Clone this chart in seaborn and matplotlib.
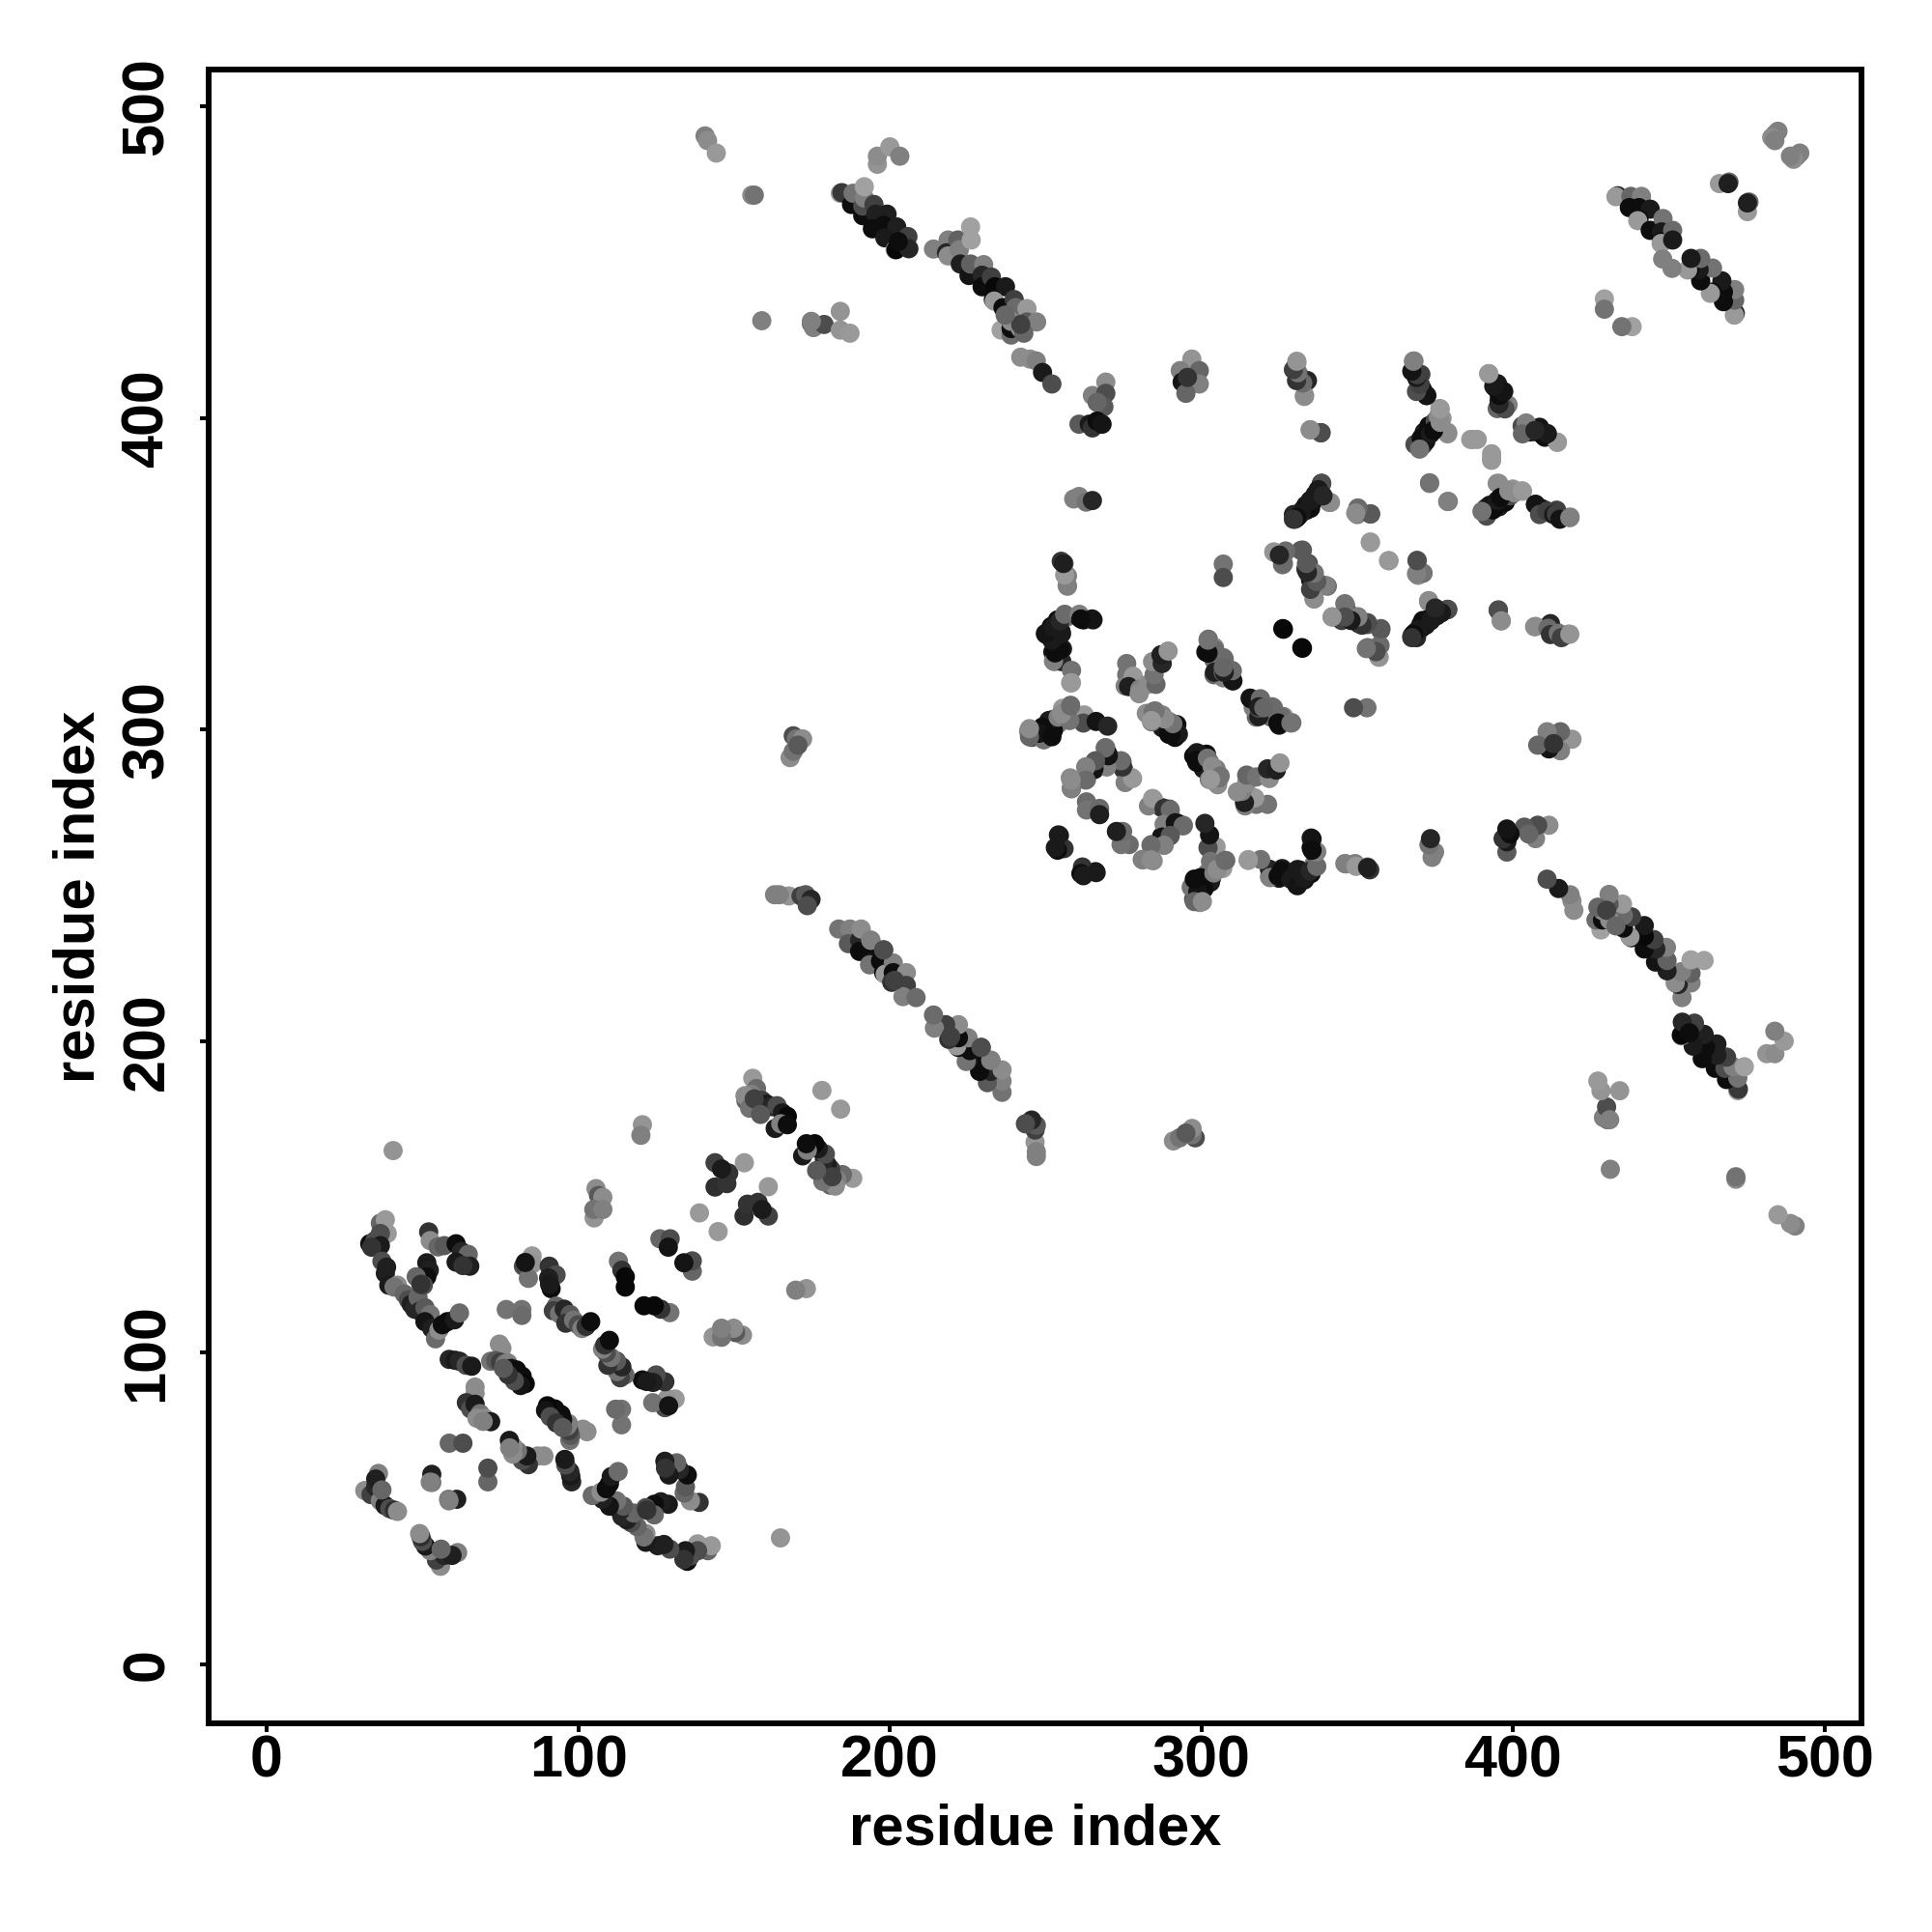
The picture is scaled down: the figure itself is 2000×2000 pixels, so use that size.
import numpy as np
import pandas as pd
import matplotlib
matplotlib.use("Agg")
import matplotlib.pyplot as plt
import seaborn as sns

# residue contacts, one triangle (i < j); the map is symmetric
a_i = [36.5,38.1,38.7,36.5,33.1,34.8,36.5,33.7,37.0,38.1,38.5,39.2,42.0,40.9,44.2,45.5,46.4,47.5,48.6,49.2,50.8,52.5,50.8,53.0,54.2,55.3,56.4,58.0,60.3,61.9,51.4,52.2,51.4,50.3,48.0,49.5]
a_j = [141.6,142.7,138.3,138.3,135.0,136.0,134.4,133.9,129.4,125.5,127.5,121.7,121.7,121.1,118.9,117.0,115.6,114.0,117.8,113.4,114.5,112.3,110.0,107.8,104.5,107.3,109.0,110.0,110.6,112.8,128.9,126.5,124.4,121.7,124.4,122.0]
a_g = [.40,.60,.60,.30,.05,.30,.10,.20,.30,.12,.12,.10,.55,.45,.40,.30,.12,.15,.40,.15,.35,.45,.08,.12,.42,.55,.05,.05,.10,.42,.10,.12,.05,.30,.40,.20]

b_i = [52.0,52.5,55.0,57.0,60.8,62.5,64.7,65.2,60.8,63.0,53.0,53.0,35.9,31.5,33.5,35.0,36.5,38.0,39.5,41.0,42.0,35.0,37.0]
b_j = [138.8,136.0,134.0,134.4,135.0,132.5,131.6,127.8,129.1,128.0,61.0,58.4,61.3,55.8,54.5,57.0,52.5,51.0,50.0,49.5,49.1,59.5,56.0]
b_g = [.20,.55,.40,.35,.05,.15,.40,.12,.10,.20,.12,.45,.50,.55,.25,.15,.50,.10,.30,.18,.55,.12,.40]

c_i = [58.6,60.5,61.9,64.0,65.8,66.9,66.9,64.1,65.5,66.9,68.5,70.0,71.9,67.5,69.5,58.6,63.0,58.5]
c_j = [97.9,97.6,97.3,96.0,95.7,89.0,87.0,84.0,82.0,83.5,80.5,79.0,77.9,79.0,78.0,71.0,71.0,52.5]
c_g = [.15,.10,.15,.30,.10,.55,.55,.20,.30,.10,.45,.55,.10,.55,.50,.40,.30,.50]

d_i = [74.7,75.5,71.9,73.5,75.0,76.5,77.4,78.5,79.0,80.2,81.0,82.0,83.0,81.5,79.5,77.5,76.0]
d_j = [102.8,101.5,97.3,97.5,97.0,96.5,96.8,95.0,93.0,94.5,91.5,92.5,90.1,89.5,91.0,93.0,95.0]
d_g = [.55,.55,.45,.35,.25,.45,.50,.08,.10,.05,.05,.05,.03,.08,.30,.20,.35]

e_i = [76.9,81.9,81.9,85.2,85.2,82.4,84.0,83.0,90.7,92.9,90.5,91.3,90.8,92.9,92.0,94.0,95.5,97.4,96.0,98.5,100.0,101.2,102.5,104.0]
e_j = [113.9,113.9,112.0,131.1,128.5,127.8,123.9,129.0,127.8,125.0,124.0,120.6,122.0,115.0,113.5,112.5,114.0,112.3,109.5,110.5,109.0,107.8,108.5,110.0]
e_g = [.45,.45,.42,.60,.58,.30,.45,.08,.20,.30,.12,.05,.10,.40,.25,.45,.15,.35,.20,.45,.30,.50,.20,.05]

f_i = [112.9,114.0,115.1,115.1,105.7,106.5,107.9,105.1,105.0,107.9,120.6,120.1,126.2,129.5,128.9,143.9,148.3,143.9,147.7,146.0,153.3,138.9,178.2,40.6]
f_j = [129.4,126.5,124.4,121.1,152.7,150.5,149.9,143.3,146.0,146.0,173.2,169.8,136.6,136.6,133.9,161.0,157.7,153.2,154.3,159.0,161.0,144.9,184.2,164.9]
f_g = [.45,.20,.03,.03,.55,.35,.55,.58,.45,.50,.58,.50,.40,.30,.08,.25,.20,.18,.20,.10,.60,.60,.60,.58]

g_i = [156.0,157.2,153.8,155.5,157.5,159.0,160.5,162.0,163.8,165.5,167.1,163.2,165.0,167.1,153.5,155.0,156.5,158.5]
g_j = [188.1,184.8,180.9,183.0,179.5,181.0,179.8,179.0,179.3,177.0,175.9,172.0,173.5,173.2,182.5,178.5,181.5,176.5]
g_g = [.60,.42,.40,.50,.50,.25,.10,.15,.30,.10,.03,.10,.50,.05,.55,.45,.25,.35]

h_i = [163.0,167.6,171.5,173.0,174.7,173.5,169.0,170.0,172.0,168.0,169.0,170.5,164.5,242.0,245.0,247.0,249.0,252.0]
h_j = [247.0,246.6,246.6,247.0,245.5,243.5,298.0,297.0,297.0,291.0,293.0,295.0,247.0,419.5,418.9,418.3,414.6,410.9]
h_g = [.50,.58,.25,.35,.15,.30,.30,.45,.55,.55,.45,.35,.50,.55,.55,.50,.10,.30]

j_i = [183.6,187.2,186.7,190.3,190.3,190.8,194.4,193.9,193.9,193.5,197.0,198.0,198.0,198.5,201.1,201.1,200.6,205.3,205.3,204.2,208.4,193.9,198.0,201.5]
j_j = [236.0,236.0,231.3,232.4,228.8,236.0,229.3,225.1,232.4,224.5,225.7,229.3,222.0,221.5,225.1,222.0,218.9,222.0,217.9,214.3,214.0,232.4,229.3,219.5]
j_g = [.45,.50,.35,.15,.05,.55,.05,.10,.50,.45,.05,.30,.05,.60,.50,.05,.20,.55,.25,.50,.42,.50,.30,.25]

k_i = [184.1,184.6,187.7,188.2,191.3,191.3,191.8,191.8,194.9,195.5,199.1,194.4,198.0,202.2,198.4,201.7,202.0,205.8,206.1,202.7]
k_j = [472.1,472.3,468.5,472.1,464.9,468.0,470.6,474.2,468.5,465.4,465.4,460.7,461.8,461.3,457.8,454.0,454.0,458.2,454.3,456.6]
k_g = [.62,.22,.05,.45,.05,.30,.50,.63,.25,.12,.12,.05,.05,.12,.10,.55,.03,.25,.15,.05]

l_i = [214.0,218.7,218.2,218.7,221.8,222.3,225.9,226.1,222.6,225.4,225.9,230.1,229.6,229.6,232.6,233.7,237.1,233.2,233.5,236.3,239.9,240.4,244.0,244.0,247.1,235.7,238.9,238.9,238.9,241.9,243.0,242.0,237.0]
l_j = [454.2,457.1,453.0,452.0,457.1,454.0,461.3,457.1,449.4,445.7,449.4,449.2,445.8,442.1,445.2,442.1,442.1,438.0,437.5,435.4,438.0,435.4,435.1,430.8,430.8,428.2,426.6,428.7,431.0,428.7,427.2,430.0,433.0]
l_g = [.50,.50,.15,.55,.38,.50,.63,.63,.12,.08,.38,.50,.15,.05,.25,.03,.10,.05,.60,.05,.25,.42,.60,.35,.50,.63,.42,.05,.55,.55,.40,.25,.40]

m_i = [140.7,141.5,144.3,155.7,156.5,158.9,174.8,175.5,178.9,184.1,184.1,187.2,196.0,196.0,200.0,203.2,174.8]
m_j = [490.5,489.0,485.0,471.5,471.5,431.2,430.3,429.0,430.0,434.2,428.2,427.2,481.4,484.0,487.0,484.0,431.0]
m_g = [.50,.55,.60,.55,.45,.50,.40,.50,.30,.58,.58,.60,.58,.55,.60,.50,.50]

n_i = [269.3,265.0,269.3,268.7,266.5,260.7,264.0,265.0,266.5,268.1,296.9,293.2,299.3,299.3,293.8,295.0,295.5,330.6,331.2,330.0,333.0,333.0,334.9,338.3,334.0]
n_j = [411.5,407.2,407.9,403.6,405.0,398.0,398.0,396.8,399.0,398.0,418.9,415.2,415.2,410.9,411.5,407.9,413.0,417.7,414.0,416.0,410.9,406.9,396.2,395.2,412.0]
n_g = [.55,.50,.30,.35,.40,.35,.10,.20,.05,.08,.58,.50,.40,.50,.08,.40,.20,.55,.42,.50,.45,.55,.55,.30,.15]

o_i = [368.2,370.4,370.4,372.2,369.5,371.0,376.5,377.2,379.0,374.1,371.5,373.0,375.0,371.0,369.8,368.5,372.0,387.0,388.5,393.1,392.2,394.3,395.0,395.5,398.4,394.9,396.0,402.9,404.5,407.2,408.5,410.2,414.2]
o_j = [418.3,414.0,410.3,407.2,412.0,409.0,403.0,399.9,395.4,396.2,395.5,397.5,399.0,391.9,390.7,391.5,393.5,393.1,393.1,386.4,414.2,409.7,411.0,405.4,404.2,403.0,407.0,397.4,395.5,395.6,397.0,393.8,392.2]
o_g = [.50,.25,.25,.08,.15,.10,.58,.58,.55,.20,.10,.05,.30,.15,.08,.30,.10,.60,.60,.60,.60,.05,.10,.10,.50,.40,.15,.30,.15,.05,.08,.10,.60]

p_i = [373.2,379.2,394.9,391.3,392.5,393.5,394.9,396.0,398.6,400.5,402.9,390.0,407.2,408.5,410.9,413.0,413.9,415.0,418.2,260.7,259.0,263.0,265.0]
p_j = [379.0,373.2,379.0,371.1,372.0,370.5,373.5,374.5,376.6,376.0,376.6,370.0,372.3,369.0,370.1,369.0,369.2,367.5,368.0,374.8,374.0,373.0,373.5]
p_g = [.50,.45,.55,.25,.08,.05,.10,.05,.55,.55,.60,.45,.08,.30,.25,.10,.25,.08,.50,.50,.50,.45,.15]

q_i = [338.5,337.5,341.0,336.5,334.9,333.5,332.5,331.2,330.0,329.5,335.0,350.2,350.0,354.2,354.2,360.2,369.2,371.0,369.5,255.8,255.0,257.0,257.0,307.0,307.0]
q_j = [379.0,377.0,372.9,375.5,373.5,372.0,370.5,368.6,367.5,369.0,371.0,371.1,369.0,369.2,360.0,354.2,354.3,350.2,349.5,353.3,354.0,349.3,346.0,353.1,348.8]
q_g = [.05,.40,.50,.10,.05,.10,.08,.15,.25,.15,.05,.45,.50,.30,.60,.60,.35,.42,.55,.50,.20,.50,.50,.45,.30]

r_i = [323.2,326.9,325.0,326.0,332.4,334.3,333.5,336.1,335.0,340.4,336.1,336.1,346.3,342.0,345.0,347.5,350.2,350.5,353.3,357.5,353.3,357.3,356.9,356.0]
r_j = [357.0,357.0,356.0,352.9,357.6,353.3,351.5,350.2,348.0,346.0,346.0,341.9,339.8,336.2,335.0,337.0,336.2,334.0,333.7,331.9,326.3,327.0,323.3,325.0]
r_g = [.58,.42,.30,.45,.35,.30,.20,.50,.10,.45,.30,.58,.50,.55,.25,.35,.45,.15,.35,.35,.42,.42,.58,.15]

s_i = [326.3,332.4,372.9,379.0,377.0,375.3,373.0,371.5,370.4,369.5,368.0,367.5,395.3,396.2,407.2,411.2,412.0,414.5,415.5,418.2,373.5,375.0]
s_j = [332.2,326.1,341.4,338.6,337.5,337.4,335.5,334.5,333.7,332.0,330.6,329.5,338.4,334.9,333.1,332.5,330.5,330.9,329.5,330.6,335.0,339.0]
s_g = [.03,.03,.55,.30,.10,.10,.05,.08,.05,.10,.05,.20,.30,.55,.55,.42,.20,.45,.25,.58,.10,.15]

t_i = [253.8,251.8,254.9,250.2,254.0,255.4,252.3,252.8,255.2,258.3,258.3,257.0,260.6,262.1,265.2]
t_j = [335.2,333.1,331.6,330.5,328.5,325.9,324.9,321.8,321.8,319.0,315.0,336.2,336.2,335.2,335.2]
t_g = [.05,.05,.10,.08,.05,.10,.08,.55,.15,.45,.63,.45,.12,.05,.10]

u_i = [276.0,276.0,275.5,278.1,276.6,280.2,280.0,282.8,285.4,284.8,284.3,287.4,287.0,289.3,302.2,304.2,301.4,304.0,307.0,304.0,307.0,309.6,310.1]
u_j = [321.2,317.6,314.0,317.1,313.8,313.0,311.5,314.5,314.5,317.6,321.8,321.2,324.0,325.2,329.0,326.4,324.9,322.3,323.1,317.6,316.6,319.0,315.6]
u_g = [.45,.45,.50,.60,.12,.50,.55,.55,.40,.45,.55,.15,.12,.58,.42,.55,.08,.40,.45,.40,.50,.42,.12]

v_i = [282.3,284.5,287.4,285.4,289.5,287.4,292.1,289.5,292.6,291.5,284.0,292.3,290.2,290.8,288.2,285.1,284.0]
v_j = [305.2,305.7,304.7,303.2,302.6,300.6,301.6,298.5,298.5,297.5,302.5,298.8,298.3,301.9,303.4,306.0,302.9]
v_g = [.55,.45,.50,.15,.42,.10,.05,.05,.15,.05,.45,.10,.05,.45,.55,.45,.60]

v2_i = [302.1,304.2,307.3,304.2,307.0,309.9,309.9,307.3,304.2,302.1,302.1,307.0]
v2_j = [324.6,325.6,322.7,318.4,318.4,315.8,318.9,318.4,325.6,324.6,328.7,320.0]
v2_g = [.05,.55,.42,.12,.42,.08,.42,.12,.42,.05,.45,.40]

w_i = [258.0,255.4,262.4,262.1,266.2,269.9,252.3,250.7,249.2,252.3,244.5,245.6,249.7,255.1,254.1,252.5,251.0,250.0,249.4,248.9,247.9,244.8,244.8,252.0,254.0]
w_j = [307.8,306.8,304.7,302.1,302.6,301.1,303.2,301.1,298.5,299.5,299.5,297.5,297.0,305.0,301.9,299.8,302.9,297.7,296.7,300.8,298.8,297.7,300.3,297.7,304.0]
w_g = [.45,.60,.60,.30,.08,.15,.05,.05,.05,.10,.55,.30,.40,.55,.50,.05,.10,.10,.45,.05,.08,.40,.55,.05,.50]

y_i = [269.3,269.9,269.9,271.9,274.5,275.0,277.6,275.5,265.7,265.7,263.1,263.1,258.3,258.3,263.1,263.1,267.3,267.3,254.4,255.9,253.8,254.1,253.1,257.9,258.2,262.9,265.5,270.1,270.0]
y_j = [294.2,292.3,289.2,290.2,289.7,287.2,284.6,283.0,289.7,287.2,287.6,284.0,284.0,281.0,276.8,274.2,274.7,272.7,266.0,261.8,261.3,266.2,262.1,284.5,283.8,288.0,287.4,291.6,290.0]
y_g = [.50,.05,.55,.40,.35,.20,.60,.50,.40,.10,.50,.42,.50,.45,.42,.45,.42,.12,.08,.20,.05,.10,.10,.55,.50,.50,.08,.08,.42]

z_i = [277.9,274.7,274.2,269.6,270.1,269.1,265.5,266.0,262.9,262.9,258.2,258.2,257.7,255.1,258.0,258.0,252.5,254.6,253.0,252.0,249.9,252.5,255.1,254.6,256.1,260.8,264.9,261.3,256.9,256.1,255.9,255.7]
z_j = [284.3,288.0,290.0,288.0,291.6,294.1,287.4,290.0,288.0,283.8,281.2,283.8,302.9,305.0,307.6,315.0,322.0,325.6,324.6,328.7,330.8,332.9,330.8,334.9,337.0,337.0,335.5,335.5,346.3,349.6,353.3,353.3]
z_g = [.60,.20,.42,.50,.08,.42,.08,.35,.50,.42,.50,.55,.45,.55,.42,.60,.50,.05,.05,.10,.08,.10,.10,.15,.42,.50,.08,.05,.50,.60,.50,.12]

aa_i = [433.6,433.0,437.8,441.2,437.3,440.4,444.0,440.4,440.0,444.0,448.1,447.6,447.6,447.5,451.2,451.2,466.2,469.3,469.0,429.3,429.3,484.0,485.0,483.0,484.0,448.0]
aa_j = [471.3,471.0,471.1,471.1,467.5,467.5,467.0,463.8,463.3,460.2,464.0,459.7,456.6,456.0,460.2,457.1,475.2,475.7,475.2,438.2,434.9,491.0,492.0,490.0,489.0,451.0]
aa_g = [.15,.60,.40,.50,.05,.05,.10,.05,.60,.05,.45,.10,.05,.60,.42,.10,.60,.42,.12,.63,.45,.45,.50,.55,.50,.50]

STRANDS = [(a_i,a_j,a_g),(b_i,b_j,b_g),(c_i,c_j,c_g),(d_i,d_j,d_g),(e_i,e_j,e_g),(f_i,f_j,f_g),
           (g_i,g_j,g_g),(h_i,h_j,h_g),(j_i,j_j,j_g),(k_i,k_j,k_g),(l_i,l_j,l_g),(m_i,m_j,m_g),
           (n_i,n_j,n_g),(o_i,o_j,o_g),(p_i,p_j,p_g),(q_i,q_j,q_g),(r_i,r_j,r_g),(s_i,s_j,s_g),
           (t_i,t_j,t_g),(u_i,u_j,u_g),(v_i,v_j,v_g),(v2_i,v2_j,v2_g),(w_i,w_j,w_g),(y_i,y_j,y_g),
           (z_i,z_j,z_g),(aa_i,aa_j,aa_g)]
tick_values = [0, 100, 200, 300, 400, 500]
axis_label = "residue index"

rows = []
for si, sj, sg in STRANDS:
    assert len(si) == len(sj) == len(sg), (si[0], len(si), len(sj), len(sg))
    rows.append(pd.DataFrame({"x": si, "y": sj, "gray": sg}))
    rows.append(pd.DataFrame({"x": sj, "y": si, "gray": sg}))
df = pd.concat(rows, ignore_index=True)

sns.set_theme(style="white")
plt.rcParams["font.family"] = ["Liberation Sans", "DejaVu Sans"]
plt.rcParams["font.weight"] = "bold"

fig = plt.figure(figsize=(20, 20), dpi=100, facecolor="white")
ax = fig.add_axes([216/2000, (2000-1784)/2000, (1927-216)/2000, (1784-72)/2000])
palette = {g: str(g) for g in df["gray"].unique()}
sns.scatterplot(data=df, x="x", y="y", hue="gray", palette=palette, s=205,
                linewidth=0, alpha=1, legend=False, ax=ax, clip_on=True)
ax.set_xlim(-18.6, 511.8)
ax.set_ylim(-18.9, 511.8)
ax.set_xticks(tick_values)
ax.set_yticks(tick_values)
ax.tick_params(axis="x", length=6.5, width=2.9, color="black", pad=1.5, labelsize=44, labelcolor="black", bottom=True)
ax.tick_params(axis="y", length=6.5, width=2.9, color="black", pad=18, labelsize=44, labelcolor="black", left=True)
for lab in ax.get_yticklabels():
    lab.set_rotation(90)
    lab.set_va("center")
for lab in ax.get_xticklabels() + ax.get_yticklabels():
    lab.set_fontweight("bold")
for sp in ax.spines.values():
    sp.set_visible(True)
    sp.set_linewidth(4.3)
    sp.set_color("black")
ax.grid(False)
ax.set_xlabel(axis_label, fontsize=43, fontweight="bold", color="black", va="center")
ax.set_ylabel(axis_label, fontsize=43, fontweight="bold", color="black", va="center")
ax.xaxis.set_label_coords(0.5, -0.0645)
ax.yaxis.set_label_coords(-0.0785, 0.5)
fig.savefig("out.png", dpi=100, facecolor="white")
